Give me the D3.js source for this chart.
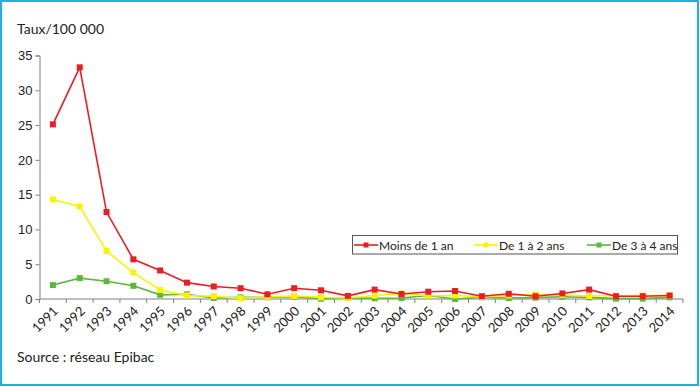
<!DOCTYPE html>
<html>
<head>
<meta charset="utf-8">
<script src="https://cdn.jsdelivr.net/npm/d3@7"></script>
<style>
  html, body { margin: 0; padding: 0; background: #fff; }
  svg { display: block; font-family: Lato, "Open Sans", sans-serif; }
</style>
</head>
<body>
<svg id="chart" width="700" height="387"></svg>
<script>
// data
var years = ["1991","1992","1993","1994","1995","1996","1997","1998","1999","2000","2001","2002",
             "2003","2004","2005","2006","2007","2008","2009","2010","2011","2012","2013","2014"];
var moins1an = [25.1, 33.3, 12.5, 5.7, 4.1, 2.35, 1.8, 1.55, 0.68, 1.55, 1.25, 0.45,
                1.35, 0.72, 1.05, 1.15, 0.4, 0.75, 0.4, 0.8, 1.35, 0.4, 0.4, 0.5];
var de1a2ans = [14.3, 13.3, 6.9, 3.8, 1.3, 0.5, 0.4, 0.1, 0.3, 0.43, 0.25, 0.15,
                0.5, 0.8, 0.47, 0.5, 0.3, 0.5, 0.67, 0.55, 0.43, 0.47, 0.5, 0.5];
var de3a4ans = [2.0, 3.0, 2.55, 1.9, 0.6, 0.68, 0.15, 0.24, 0.24, 0.33, 0.05, 0.15,
                0.1, 0.15, 0.5, 0.0, 0.25, 0.15, 0.2, 0.33, 0.24, 0.05, 0.05, 0.24];
var yTicks = [0, 5, 10, 15, 20, 25, 30, 35];

var series = [
  {name: "Moins de 1 an", values: moins1an, color: "#ed1c24"},
  {name: "De 1 à 2 ans", values: de1a2ans, color: "#fff200"},
  {name: "De 3 à 4 ans", values: de3a4ans, color: "#5cb83a"}
];

var svg = d3.select("#chart");
var mLeft = 39.5, mRight = 683, mTop = 55.5, mBottom = 299;

// frame
svg.append("rect")
  .attr("x", 1).attr("y", 1).attr("width", 697).attr("height", 384)
  .attr("fill", "none").attr("stroke", "#1cb0e6").attr("stroke-width", 2);

var x = d3.scaleBand().domain(years).range([mLeft, mRight]);
var y = d3.scaleLinear().domain([0, 35]).range([mBottom, mTop]);

// y axis
var yAxis = svg.append("g")
  .attr("transform", "translate(" + mLeft + ",0)")
  .call(d3.axisLeft(y).tickValues(yTicks).tickSize(4).tickPadding(3));
yAxis.select(".domain").attr("stroke", "#808080");
yAxis.selectAll(".tick line").attr("stroke", "#808080");
yAxis.selectAll("text").attr("font-size", 13).attr("fill", "#222");

// x axis (ticks on the category boundaries)
var xg = svg.append("g").attr("transform", "translate(0," + mBottom + ")");
xg.append("line").attr("x1", mLeft).attr("x2", mRight).attr("stroke", "#808080");
var bounds = years.map(function(d) { return x(d); }).concat([mRight]);
xg.selectAll(".bt").data(bounds).enter().append("line")
  .attr("x1", function(d) { return d; }).attr("x2", function(d) { return d; })
  .attr("y1", 0).attr("y2", 4).attr("stroke", "#808080");
xg.selectAll(".lab").data(years).enter().append("text")
  .attr("transform", function(d) {
    return "translate(" + (x(d) + x.bandwidth() / 2 + 6) + ",13) rotate(-45)";
  })
  .attr("text-anchor", "end")
  .attr("font-size", 13).attr("fill", "#222")
  .text(function(d) { return d; });

// lines
var line = d3.line()
  .x(function(d, i) { return x(years[i]) + x.bandwidth() / 2; })
  .y(function(d) { return y(d); });

series.slice().reverse().forEach(function(s) {
  svg.append("path").datum(s.values)
    .attr("d", line).attr("fill", "none")
    .attr("stroke", s.color).attr("stroke-width", 1.6);
  svg.selectAll(null).data(s.values).enter().append("rect")
    .attr("x", function(d, i) { return x(years[i]) + x.bandwidth() / 2 - 3; })
    .attr("y", function(d) { return y(d) - 3; })
    .attr("width", 6).attr("height", 6)
    .attr("fill", s.color);
});

// texts
svg.append("text").attr("x", 17).attr("y", 34).attr("font-size", 14).attr("fill", "#222")
  .text("Taux/100 000");
svg.append("text").attr("x", 17).attr("y", 362).attr("font-size", 14).attr("fill", "#222")
  .text("Source : réseau Epibac");

// legend
var lg = svg.append("g");
lg.append("rect").attr("x", 352.5).attr("y", 235.5).attr("width", 325).attr("height", 18.5)
  .attr("fill", "#fff").attr("stroke", "#555");
var lx = [354, 474, 587];
series.forEach(function(s, i) {
  var g = lg.append("g").attr("transform", "translate(" + lx[i] + ",245)");
  g.append("line").attr("x1", 0).attr("x2", 24).attr("stroke", s.color).attr("stroke-width", 1.6);
  g.append("rect").attr("x", 9.5).attr("y", -2.5).attr("width", 5).attr("height", 5).attr("fill", s.color);
  g.append("text").attr("x", 25).attr("y", 4.5).attr("font-size", 12).attr("fill", "#222").text(s.name);
});
</script>
</body>
</html>
